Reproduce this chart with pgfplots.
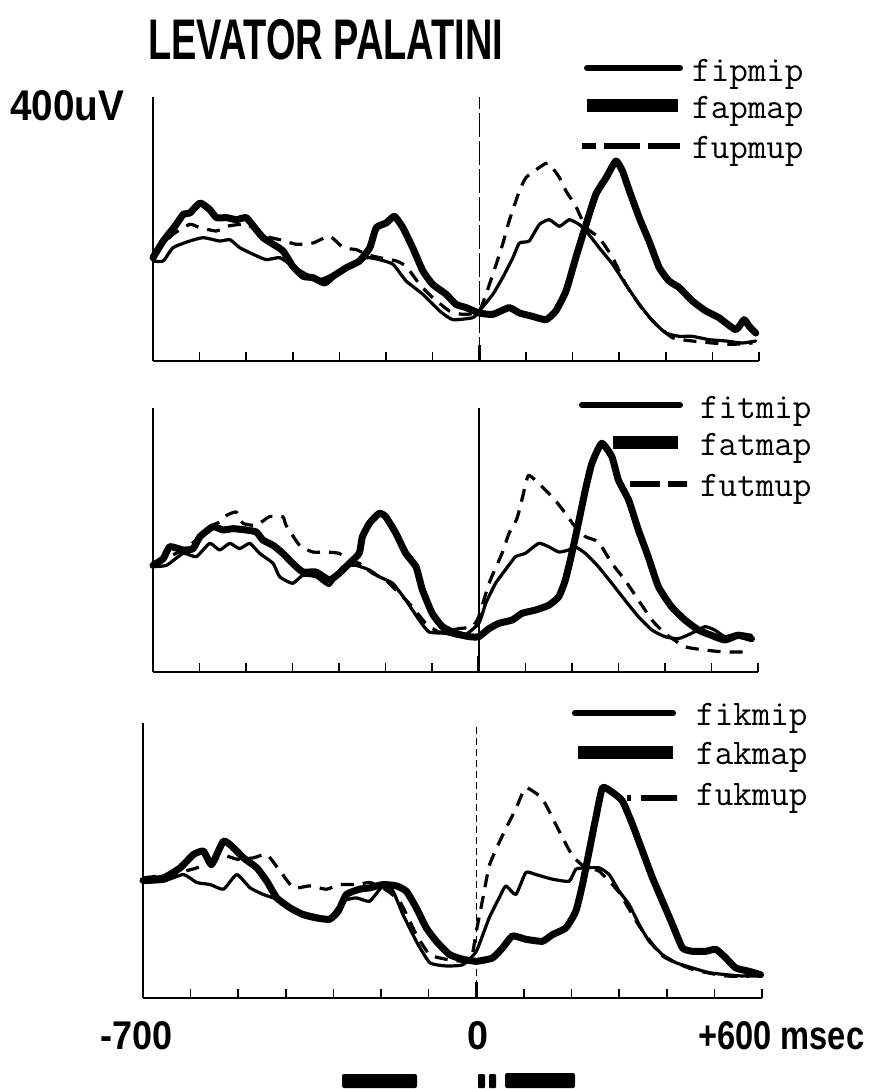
\documentclass[border=0pt]{standalone}
\usepackage{fontspec}
\usepackage{graphicx}
\usepackage{pgfplots}
\pgfplotsset{compat=1.18}
\newfontfamily\labelfont{Liberation Sans}

\pgfplotsset{
  emg/.style={
    scale only axis, anchor=south west,
    xmin=-700, xmax=600, ymin=0,
    axis x line=bottom, axis y line=left,
    axis line style={line width=2.6pt, -},
    xtick={-600,-500,...,600}, xticklabels={},
    ytick=\empty,
    tick align=inside, major tick length=9pt,
    tick style={black, line width=1.6pt},
    extra x ticks={0}, extra x tick labels={},
    extra x tick style={major tick length=16pt, tick style={line width=3.2pt}, grid=major},
    clip=false,
  },
  lineI/.style={black, line width=3.2pt, line join=round, line cap=round},
  lineA/.style={black, line width=7pt, line join=round, line cap=round},
  lineU/.style={black, line width=3.2pt, line join=round, dash pattern=on 13pt off 9pt},
}

\begin{document}
\begin{tikzpicture}
\useasboundingbox (0,0) rectangle (872pt,-1089pt);

% ---------- panel 1: fipmip / fapmap / fupmup ----------
\begin{axis}[emg, at={(153pt,-361pt)}, width=606pt, height=264pt, ymax=396,
  major grid style={black, line width=1.3pt, dash pattern=on 24pt off 4pt}]
\addplot[lineI, smooth, tension=0.3] coordinates {(-700,150)(-678,150)(-657,170)(-621,180)(-592,185)(-557,180)(-535,182)(-514,170)(-485,160)(-457,152)(-428,155)(-400,142)(-371,130)(-342,122)(-314,130)(-285,142)(-242,155)(-214,152)(-185,145)(-157,120)(-121,100)(-85,75)(-57,62)(-14,65)(0,75)(29,100)(50,125)(72,155)(86,177)(107,180)(129,205)(150,212)(172,202)(193,212)(214,205)(229,195)(257,170)(286,145)(314,115)(343,85)(372,60)(400,42)(429,37)(457,37)(493,32)(529,30)(564,27)(593,30)};
\addplot[lineA, smooth, tension=0.3] coordinates {(-700,155)(-678,180)(-650,205)(-635,220)(-621,222)(-599,237)(-578,227)(-564,215)(-542,215)(-521,212)(-500,215)(-482,200)(-464,185)(-442,175)(-421,165)(-400,142)(-378,127)(-357,125)(-332,117)(-314,127)(-285,140)(-257,150)(-235,170)(-221,200)(-200,207)(-182,217)(-164,200)(-143,170)(-121,135)(-100,115)(-71,100)(-50,85)(-28,80)(0,72)(29,70)(64,80)(86,72)(114,67)(143,62)(164,75)(186,105)(207,155)(229,205)(250,250)(272,275)(293,300)(307,285)(322,255)(343,215)(364,180)(386,140)(407,120)(429,110)(457,90)(486,75)(514,65)(550,47)(568,62)(579,52)(593,42)};
\addplot[lineU, smooth, tension=0.3] coordinates {(-700,160)(-657,190)(-621,205)(-599,200)(-564,195)(-542,202)(-500,205)(-457,187)(-428,182)(-392,175)(-357,177)(-321,187)(-292,170)(-264,167)(-242,160)(-214,155)(-178,150)(-157,142)(-128,115)(-100,95)(-64,75)(-35,70)(0,75)(29,130)(50,175)(64,210)(86,255)(100,275)(122,287)(147,297)(172,275)(186,255)(207,232)(229,200)(257,185)(286,155)(314,115)(343,85)(372,60)(414,35)(457,30)(500,27)(543,25)(586,27)};
\end{axis}

% ---------- panel 2: fitmip / fatmap / futmup ----------
\begin{axis}[emg, at={(153pt,-672pt)}, width=605pt, height=264pt, ymax=396,
  major grid style={black, line width=1.5pt}]
\addplot[lineI, smooth, tension=0.3] coordinates {(-700,158)(-671,160)(-635,178)(-607,173)(-578,193)(-557,183)(-535,193)(-514,185)(-492,193)(-471,178)(-442,163)(-428,143)(-400,133)(-378,145)(-350,143)(-321,130)(-292,158)(-264,160)(-235,153)(-214,143)(-185,133)(-157,108)(-128,78)(-107,60)(-71,58)(-35,53)(0,73)(15,103)(36,133)(57,153)(79,173)(100,178)(129,193)(150,188)(172,180)(193,183)(207,188)(229,178)(257,158)(286,133)(314,108)(343,83)(372,63)(400,53)(429,50)(457,58)(486,68)(507,63)(529,53)(557,58)(586,55)};
\addplot[lineA, smooth, tension=0.3] coordinates {(-700,160)(-678,170)(-664,188)(-635,183)(-614,185)(-599,203)(-571,218)(-550,213)(-528,215)(-500,213)(-478,210)(-464,198)(-442,190)(-421,178)(-400,163)(-378,150)(-350,150)(-321,138)(-300,148)(-278,163)(-257,178)(-250,203)(-235,223)(-214,238)(-200,233)(-178,208)(-157,178)(-135,158)(-121,123)(-100,88)(-78,68)(-50,58)(-21,53)(0,53)(22,65)(43,73)(72,78)(93,88)(122,93)(150,100)(172,113)(186,138)(200,178)(214,223)(229,273)(243,313)(264,343)(286,323)(300,288)(322,258)(343,213)(364,173)(386,128)(414,98)(443,78)(472,63)(500,55)(529,48)(557,55)(586,50)};
\addplot[lineU, smooth, tension=0.3] coordinates {(-700,163)(-635,183)(-599,203)(-578,218)(-557,225)(-542,235)(-521,240)(-507,223)(-478,220)(-450,233)(-421,233)(-414,220)(-385,190)(-357,180)(-328,180)(-300,178)(-278,168)(-257,163)(-228,148)(-200,138)(-171,118)(-143,98)(-114,73)(-85,60)(-43,65)(-14,68)(0,83)(22,133)(50,178)(65,208)(82,230)(95,265)(107,295)(136,278)(164,258)(186,238)(207,218)(229,203)(257,195)(286,163)(314,138)(343,108)(372,78)(400,58)(443,38)(486,33)(529,30)(586,30)};
\end{axis}

% ---------- panel 3: fikmip / fakmap / fukmup ----------
\begin{axis}[emg, at={(143pt,-998pt)}, width=619pt, height=275pt, ymax=412,
  major grid style={black, line width=1.3pt, dash pattern=on 7pt off 4pt}]
\addplot[lineI, smooth, tension=0.3] coordinates {(-700,173)(-657,175)(-615,185)(-587,173)(-559,170)(-531,163)(-503,185)(-475,165)(-447,155)(-419,148)(-391,135)(-364,128)(-336,123)(-308,120)(-280,145)(-252,150)(-224,145)(-196,168)(-175,160)(-154,125)(-126,85)(-98,53)(-63,48)(-28,50)(0,70)(27,120)(48,150)(62,168)(83,155)(104,188)(125,185)(160,178)(195,175)(209,193)(230,195)(258,195)(279,185)(300,160)(321,140)(342,110)(363,85)(391,65)(419,53)(454,45)(489,38)(524,35)(559,33)(594,35)};
\addplot[lineA, smooth, tension=0.3] coordinates {(-700,176)(-657,180)(-622,195)(-594,215)(-573,220)(-556,200)(-531,235)(-510,225)(-489,210)(-461,195)(-440,175)(-419,150)(-391,135)(-364,125)(-336,120)(-308,118)(-290,130)(-273,155)(-245,163)(-224,165)(-196,170)(-168,168)(-147,160)(-126,135)(-105,105)(-84,85)(-56,65)(-28,58)(0,55)(34,60)(55,75)(76,93)(104,88)(139,85)(160,95)(188,105)(209,130)(223,170)(237,220)(251,270)(265,315)(286,308)(307,295)(328,260)(349,220)(370,180)(391,145)(412,110)(433,75)(454,70)(482,70)(503,73)(524,60)(545,45)(573,40)(597,35)};
\addplot[lineU, smooth, tension=0.3] coordinates {(-700,180)(-643,185)(-587,195)(-531,213)(-503,208)(-468,210)(-440,215)(-412,190)(-384,165)(-350,168)(-315,163)(-287,170)(-252,170)(-224,173)(-196,165)(-161,145)(-126,95)(-98,65)(-63,58)(-28,55)(-10,60)(0,100)(14,150)(28,200)(56,245)(84,285)(104,315)(139,298)(174,250)(202,213)(230,195)(258,190)(300,158)(342,108)(391,63)(454,43)(524,33)(594,33)};
\end{axis}

% ---------- headings and scale labels ----------
\node[anchor=south west, inner sep=0] at (148pt,-60pt) {\resizebox{355pt}{40pt}{\labelfont\bfseries LEVATOR PALATINI}};
\node[anchor=south west, inner sep=0] at (10pt,-121pt) {\resizebox{114pt}{30pt}{\labelfont\bfseries 400uV}};
\node[anchor=south west, inner sep=0] at (100pt,-1050pt) {\resizebox{72pt}{28pt}{\labelfont\bfseries -700}};
\node[anchor=south west, inner sep=0] at (467pt,-1050pt) {\resizebox{21pt}{28pt}{\labelfont\bfseries 0}};
\node[anchor=south west, inner sep=0] at (698pt,-1050pt) {\resizebox{166pt}{28pt}{\labelfont\bfseries +600 msec}};

% stimulus bars under the time axis
\fill[rounded corners=2pt] (342pt,-1074pt) rectangle (417pt,-1088pt);
\fill[rounded corners=1pt] (478pt,-1074pt) rectangle (485pt,-1088pt);
\fill[rounded corners=1pt] (489pt,-1074pt) rectangle (496pt,-1088pt);
\fill[rounded corners=2pt] (505pt,-1073pt) rectangle (575pt,-1088pt);

% ---------- legends ----------
\def\legfont{\fontsize{36}{36}\selectfont\ttfamily}
% panel 1
\draw[line width=6pt, line cap=round] (587pt,-68pt) -- (680pt,-68pt);
\draw[line width=13pt] (587pt,-106pt) -- (678pt,-106pt);
\draw[line width=6pt, dash pattern=on 14pt off 8pt on 36pt off 8pt on 30pt off 0pt] (582pt,-146pt) -- (680pt,-146pt);
\node[anchor=base west, inner sep=0] at (692pt,-82pt) {\legfont fipmip};
\node[anchor=base west, inner sep=0] at (692pt,-119pt) {\legfont fapmap};
\node[anchor=base west, inner sep=0] at (692pt,-158pt) {\legfont fupmup};
% panel 2
\draw[line width=6pt, line cap=round] (582pt,-405pt) -- (680pt,-405pt);
\draw[line width=13pt] (613pt,-442pt) -- (678pt,-442pt);
\draw[line width=6pt, dash pattern=on 30pt off 8pt on 19pt off 0pt] (630pt,-484pt) -- (687pt,-484pt);
\node[anchor=base west, inner sep=0] at (700pt,-418pt) {\legfont fitmip};
\node[anchor=base west, inner sep=0] at (700pt,-455pt) {\legfont fatmap};
\node[anchor=base west, inner sep=0] at (700pt,-496pt) {\legfont futmup};
% panel 3
\draw[line width=6pt, line cap=round] (575pt,-713pt) -- (673pt,-713pt);
\draw[line width=13pt] (578pt,-752pt) -- (673pt,-752pt);
\draw[line width=6pt, dash pattern=on 4pt off 10pt on 36pt off 0pt] (627pt,-798pt) -- (677pt,-798pt);
\node[anchor=base west, inner sep=0] at (696pt,-725pt) {\legfont fikmip};
\node[anchor=base west, inner sep=0] at (696pt,-764pt) {\legfont fakmap};
\node[anchor=base west, inner sep=0] at (696pt,-805pt) {\legfont fukmup};
\end{tikzpicture}
\end{document}
